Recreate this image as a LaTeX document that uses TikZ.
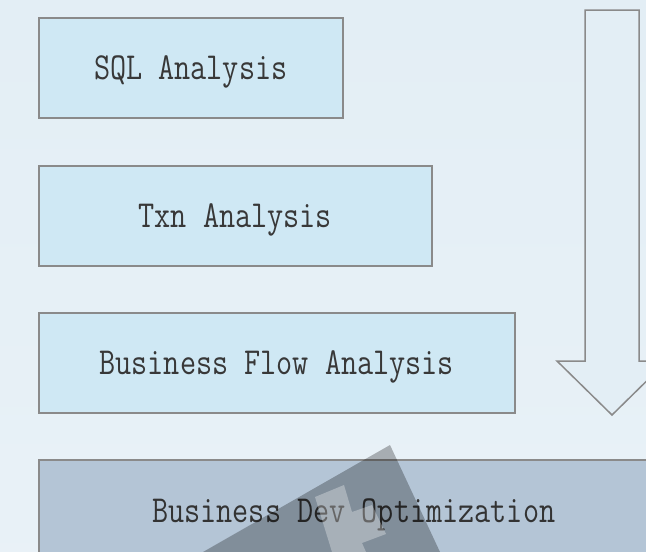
\documentclass[tikz,border=0pt]{standalone}
\usepackage{graphicx}
\usepackage{tikz}
\usepackage{xcolor}

\definecolor{bgblue}{HTML}{E3EEF5}
\definecolor{boxblue}{HTML}{CFE8F4}
\definecolor{optblue}{HTML}{B4C5D6}
\definecolor{edgegray}{HTML}{8A8A8A}
\definecolor{textgray}{HTML}{383838}

\newcommand{\stagetext}[1]{\raisebox{-4pt}[\height][\depth]{\scalebox{1}[1.22]{#1}}}

\begin{document}
\begin{tikzpicture}[x=1pt,y=-1pt,
    stagebox/.style={draw=edgegray,line width=1.5pt,fill=boxblue,anchor=north west,inner sep=0pt,
        minimum height=100pt,text=textgray,font=\ttfamily\fontsize{31.3}{36}\selectfont},
    optbox/.style={stagebox,fill=optblue,text=black!80}]
            \clip (0,0) rectangle (646,552);
            \shade[top color=bgblue,bottom color=bgblue!80!white] (0,0) rectangle (646,552);
            % stages
            \node[stagebox,minimum width=304pt] (sql) at (38,17) {\stagetext{SQL Analysis}};
            \node[stagebox,minimum width=393pt] (txn) at (38,165) {\stagetext{Txn Analysis}};
            \node[stagebox,minimum width=476pt] (flow) at (38,312) {\stagetext{Business Flow Analysis}};
            \node[optbox,minimum width=630pt,minimum height=102pt] (opt) at (38,459) {\stagetext{Business Dev Optimization}};
            % big down arrow
            \draw[edgegray,line width=1.5pt,fill=bgblue] (585,10) -- (639,10) -- (639,361) -- (667,361)
                -- (612,415) -- (557,361) -- (585,361) -- cycle;
            % watermark
            \fill[black,opacity=0.28] (390,445) -- (440,552) -- (203,552) -- cycle;
            \fill[white,opacity=0.3] (315,497) -- (344,485) -- (352,512) -- (372,505) -- (386,534)
                -- (362,543) -- (366,552) -- (332,552) -- cycle;
        \end{tikzpicture}
\end{document}
